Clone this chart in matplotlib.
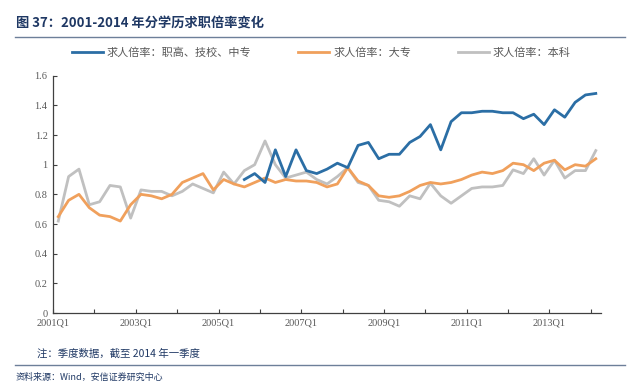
import matplotlib
matplotlib.use("Agg")
import matplotlib.pyplot as plt
from matplotlib.lines import Line2D

plt.rcParams['font.family'] = ['Noto Sans CJK SC', 'DejaVu Sans']

# --- data (quarterly, 2001Q1 .. 2014Q1) ---
years = list(range(2001, 2015))
quarters = [f"{y}Q{q}" for y in years for q in range(1, 5)][:53]

# 职高、技校、中专 starts in 2005Q3
vocational = [None] * 18 + [
    0.90, 0.94, 0.88, 1.10, 0.92, 1.10, 0.96, 0.94, 0.97, 1.01,
    0.98, 1.13, 1.15, 1.04, 1.07, 1.07, 1.15, 1.19, 1.27, 1.10,
    1.29, 1.35, 1.35, 1.36, 1.36, 1.35, 1.35, 1.31, 1.34, 1.27,
    1.37, 1.32, 1.42, 1.47, 1.48,
]
college = [
    0.65, 0.76, 0.80, 0.71, 0.66, 0.65, 0.62, 0.73, 0.80, 0.79,
    0.77, 0.80, 0.88, 0.91, 0.94, 0.83, 0.90, 0.87, 0.85, 0.88,
    0.91, 0.88, 0.90, 0.89, 0.89, 0.88, 0.85, 0.87, 0.98, 0.89,
    0.86, 0.79, 0.78, 0.79, 0.82, 0.86, 0.88, 0.87, 0.88, 0.90,
    0.93, 0.95, 0.94, 0.96, 1.01, 1.00, 0.96, 1.01, 1.03, 0.965,
    1.00, 0.99, 1.04,
]
bachelor = [
    0.62, 0.92, 0.97, 0.73, 0.75, 0.86, 0.85, 0.64, 0.83, 0.82,
    0.82, 0.79, 0.82, 0.87, 0.84, 0.81, 0.95, 0.87, 0.96, 1.00,
    1.16, 1.00, 0.91, 0.93, 0.95, 0.90, 0.87, 0.92, 0.98, 0.88,
    0.86, 0.76, 0.75, 0.72, 0.79, 0.77, 0.875, 0.79, 0.74, 0.79,
    0.84, 0.85, 0.85, 0.86, 0.965, 0.94, 1.04, 0.93, 1.03, 0.91,
    0.96, 0.96, 1.095,
]

series_names = ['求人倍率：职高、技校、中专', '求人倍率：大专', '求人倍率：本科']
series_colors = ['#2b6ea5', '#f0a05c', '#c0c0c0']

fig = plt.figure(figsize=(6.4, 3.86), dpi=100)
ax = fig.add_axes([0.083, 0.189, 0.856, 0.615])

x = list(range(len(quarters)))
vx = [i for i, v in zip(x, vocational) if v is not None]
vy = [v for v in vocational if v is not None]
ax.plot(vx, vy, color=series_colors[0], lw=2.0, label=series_names[0], zorder=3)
ax.plot(x, college, color=series_colors[1], lw=2.0, label=series_names[1], zorder=2)
ax.plot(x, bachelor, color=series_colors[2], lw=2.0, label=series_names[2], zorder=1)

ax.set_xlim(-0.5, 52.5)
ax.set_ylim(0, 1.6)

tick_pos = [i - 0.5 for i in range(0, 53, 4)]
tick_lab = [quarters[i] if (i // 4) % 2 == 0 else '' for i in range(0, 53, 4)]
ax.set_xticks(tick_pos)
ax.set_xticklabels(tick_lab, family='Liberation Serif', fontsize=7.5, color='#595959')
ax.set_yticks([0, 0.2, 0.4, 0.6, 0.8, 1.0, 1.2, 1.4, 1.6])
ax.set_yticklabels(['0', '0.2', '0.4', '0.6', '0.8', '1', '1.2', '1.4', '1.6'],
                   family='Liberation Serif', fontsize=7.5, color='#595959')
ax.tick_params(axis='both', direction='in', length=3, color='#404040', pad=4)

for s in ['top', 'right']:
    ax.spines[s].set_visible(False)
for s in ['left', 'bottom']:
    ax.spines[s].set_color('#404040')
    ax.spines[s].set_linewidth(0.9)

handles = [Line2D([], [], color=c, lw=2.0) for c in series_colors]
fig.legend(handles, series_names, loc='center', bbox_to_anchor=(0.502, 0.865),
           ncol=3, frameon=False, fontsize=8, handlelength=2.8,
           handletextpad=0.35, columnspacing=4.2, labelcolor='#595959')

# title, separators and notes
fig.text(0.025, 0.94, '图 37：2001-2014 年分学历求职倍率变化', fontsize=9.5,
         fontweight='bold', color='#1f3864', va='center')
fig.add_artist(Line2D([0.023, 0.977], [0.905, 0.905], color='#6d7f99', lw=1.0))
fig.text(0.058, 0.085, '注：季度数据，截至 2014 年一季度', fontsize=7.5,
         color='#1f3864', va='center')
fig.add_artist(Line2D([0.023, 0.977], [0.054, 0.054], color='#6d7f99', lw=1.0))
fig.text(0.025, 0.022, '资料来源：Wind，安信证券研究中心', fontsize=6.5,
         color='#1f3864', va='center', style='italic')

fig.savefig('out.png', dpi=100)
